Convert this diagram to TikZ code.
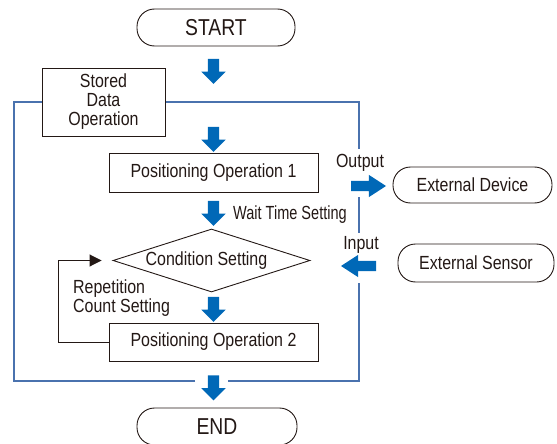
\documentclass[tikz,border=0pt]{standalone}
\usepackage{fontspec}
\setmainfont{Liberation Sans}[FakeStretch=0.84]
\usetikzlibrary{shapes.geometric,shapes.arrows,arrows.meta}
\definecolor{ink}{HTML}{231815}
\definecolor{flowblue}{HTML}{0068B7}
\definecolor{framec}{HTML}{4A72AE}
\begin{document}
\begin{tikzpicture}[x=1pt,y=-1pt,
 txt/.style={font=\fontsize{19}{19}\selectfont, text=ink},
 big/.style={font=\fontsize{23}{23}\selectfont, text=ink},
 box/.style={draw=ink, line width=0.9pt, fill=white, inner sep=0pt, txt},
 term/.style={box, rounded corners=17.5pt},
 lbl/.style={txt, inner sep=0pt},
 darr/.style={single arrow, fill=flowblue, draw=none, inner xsep=0pt, inner ysep=5.5pt, minimum height=25pt, minimum width=24pt, single arrow head extend=6.5pt, single arrow tip angle=90, rotate=-90},
 harr/.style={single arrow, fill=flowblue, draw=none, inner xsep=0pt, inner ysep=5pt, minimum height=35pt, minimum width=22pt, single arrow head extend=6pt, single arrow tip angle=66},
 framel/.style={draw=framec, line width=1.1pt},
 loopl/.style={draw=ink, line width=0.9pt, -{Triangle[length=12pt,width=12pt]}},
]
\useasboundingbox (0,0) rectangle (557,444);

% frame
\draw[framel] (195,381) -- (14,381) -- (14,102) -- (359,102) -- (359,149);
\draw[framel] (359,197) -- (359,233);
\draw[framel] (359,283) -- (359,381) -- (228,381);

% nodes
\node[term, big, minimum width=158pt, minimum height=37pt] (start) at (216,27.5) {START};
\node[box, minimum width=123pt, minimum height=68pt, align=center] (stored) at (103.5,102) {Stored\\Data\\Operation};
\node[box, minimum width=209pt, minimum height=39pt] (pos1) at (213.5,172.5) {Positioning Operation 1};
\node[term, minimum width=159pt, minimum height=36pt] (dev) at (472.5,185) {External Device};
\node[diamond, draw=ink, line width=0.9pt, fill=white, minimum width=197pt, minimum height=63pt, inner sep=0pt] (cond) at (211.5,260.5) {};
\node[lbl] (condt) at ([xshift=-5pt]cond.center) {Condition Setting};
\node[term, minimum width=156pt, minimum height=38pt] (sensor) at (476,263) {External Sensor};
\node[box, minimum width=209pt, minimum height=38pt] (pos2) at (213.5,342) {Positioning Operation 2};
\node[term, big, minimum width=160pt, minimum height=37pt] (end) at (217,426.5) {END};

% labels
\node[lbl, anchor=base west, xscale=0.91, transform shape] (wait) at (233,219) {Wait Time Setting};
\node[lbl, anchor=base] (outl) at (360,167) {Output};
\node[lbl, anchor=base] (inl) at (361,249) {Input};
\node[lbl, anchor=base west] (rep1) at (73,293) {Repetition};
\node[lbl, anchor=base west] (rep2) at (73,312) {Count Setting};

% blue arrows
\node[darr] (a1) at (213.5,68.5) {};
\node[darr] (a2) at (213.5,136.5) {};
\node[darr] (a3) at (213.5,210.5) {};
\node[darr] (a4) at (213.5,306.5) {};
\node[darr] (a5) at (213.5,385) {};
\node[harr] (aout) at (364.5,186) {};
\node[harr, rotate=180] (ain) at (362.5,266) {};

% loop
\coordinate (lp) at (58,342);
\draw[loopl] (pos2.west) -- (lp) |- ([xshift=-11pt]cond.west);
\end{tikzpicture}
\end{document}
